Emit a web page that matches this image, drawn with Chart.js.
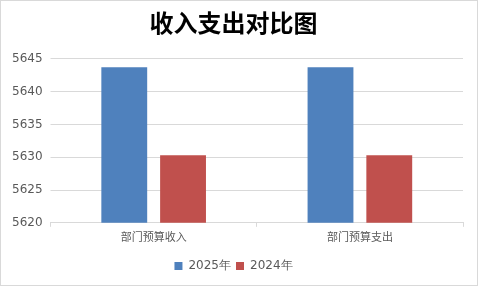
<!DOCTYPE html>
<html>
<head>
<meta charset="utf-8">
<script src="https://cdn.jsdelivr.net/npm/chart.js@4/dist/chart.umd.min.js"></script>
<style>
  html, body { margin: 0; padding: 0; background: #fff; }
  #wrap { width: 476px; height: 284px; border: 1px solid #d9d9d9; position: relative; }
</style>
</head>
<body>
<div id="wrap"><canvas id="chart" width="476" height="284"></canvas></div>
<script>
// Data
const categories = ["部门预算收入", "部门预算支出"];
const series2025 = [5643.7, 5643.7];
const series2024 = [5630.3, 5630.3];
const seriesNames = ["2025年", "2024年"];

const ctx = document.getElementById("chart").getContext("2d");

const chart = new Chart(ctx, {
  type: "bar",
  data: {
    labels: categories,
    datasets: [
      {
        label: seriesNames[0],
        data: series2025,
        backgroundColor: "#4f81bd",
      },
      {
        label: seriesNames[1],
        data: series2024,
        backgroundColor: "#c0504d",
      },
    ],
  },
  options: {
    responsive: false,
    animation: false,
    categoryPercentage: 0.57,
    barPercentage: 0.78,
    layout: { padding: { left: 3, right: 14, top: 0, bottom: 3 } },
    plugins: {
      title: {
        display: true,
        text: "收入支出对比图",
        color: "#000",
        font: { family: "'Noto Sans CJK SC'", size: 24, weight: "bold" },
        padding: { top: 7, bottom: 22 },
      },
      legend: {
        position: "bottom",
        labels: {
          boxWidth: 8,
          boxHeight: 8,
          padding: 5,
          color: "#595959",
          font: { family: "'DejaVu Sans'", size: 12 },
        },
      },
      tooltip: { enabled: false },
    },
    scales: {
      x: {
        afterFit: (axis) => {
          axis.height += 9; // room between labels and legend
        },
        grid: {
          offset: true,
          drawOnChartArea: false,
          color: "#d9d9d9",
          tickLength: 4,
        },
        border: { color: "#d9d9d9" },
        ticks: {
          color: "#595959",
          font: { family: "'Noto Sans CJK SC'", size: 11 },
          padding: 3,
        },
      },
      y: {
        min: 5620,
        max: 5645,
        ticks: {
          stepSize: 5,
          color: "#595959",
          font: { family: "'DejaVu Sans'", size: 12 },
          padding: 8,
          callback: (v) => String(v),
        },
        grid: { color: "#d9d9d9", tickLength: 0 },
        border: { display: false },
      },
    },
  },
});
</script>
</body>
</html>
